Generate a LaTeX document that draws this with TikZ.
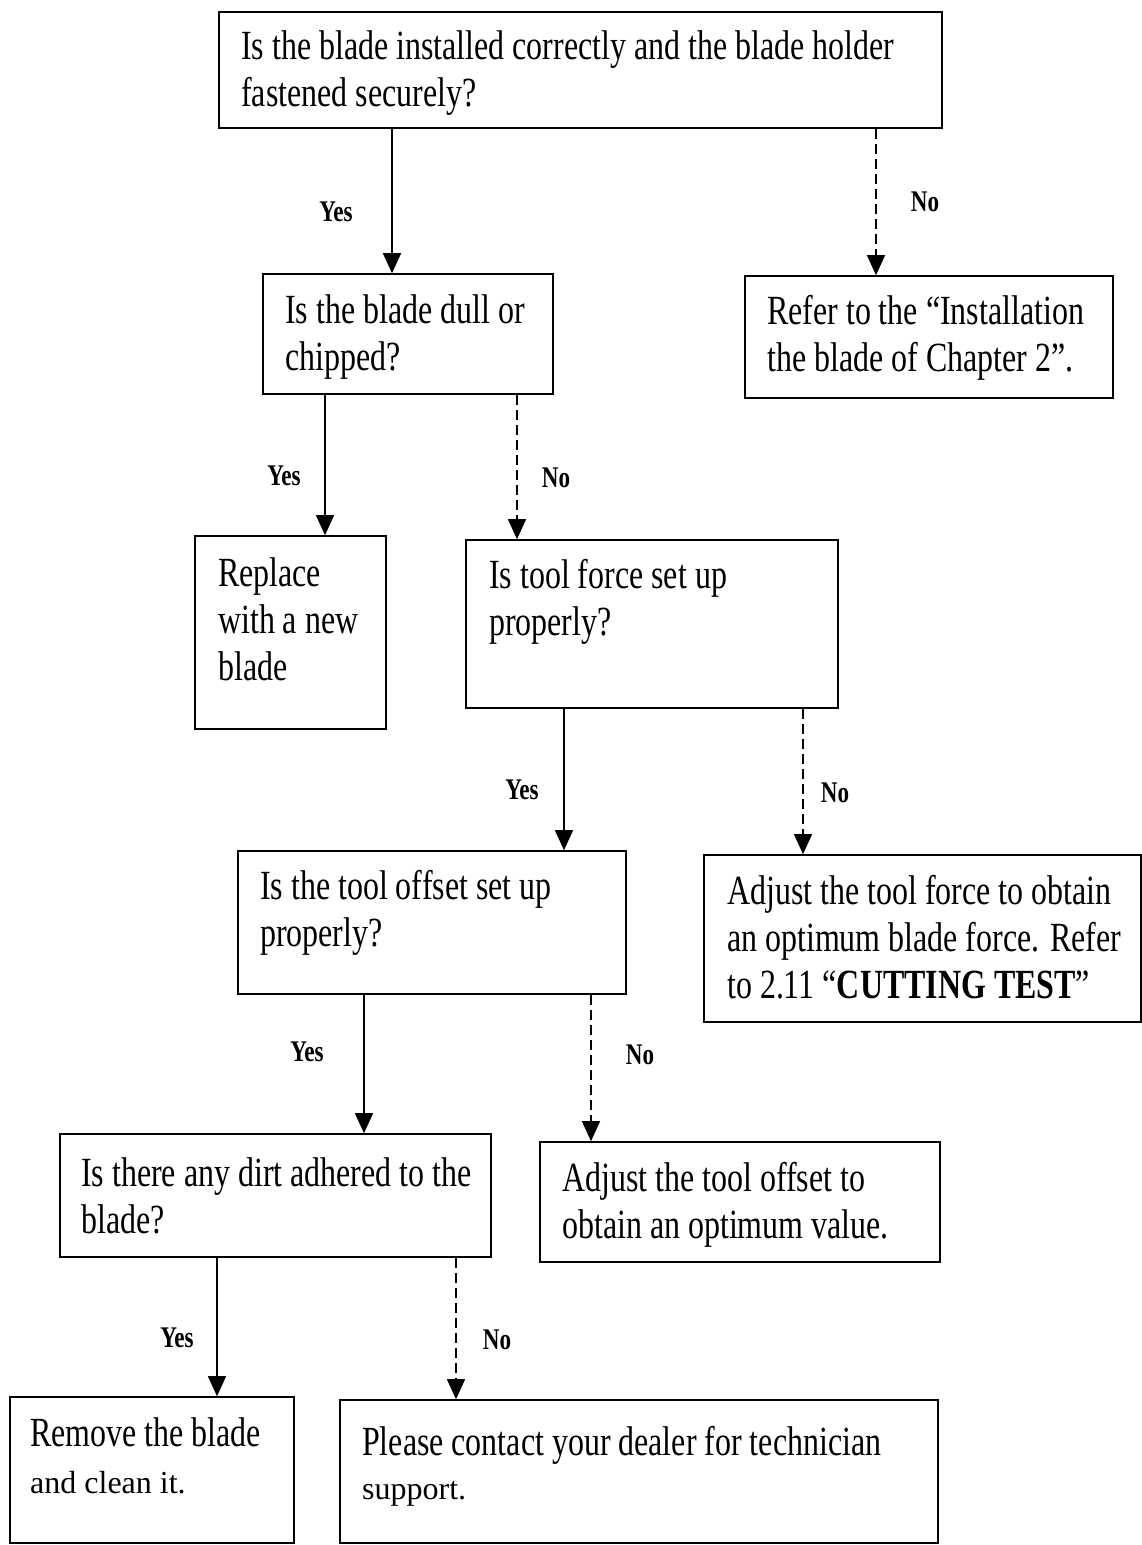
\documentclass[tikz,border=0pt]{standalone}
\usepackage{fontspec}
\setmainfont{Liberation Serif}[FakeStretch=0.77]
\newfontfamily\plainserif{Liberation Serif}
\usetikzlibrary{arrows.meta,fit}
\newcommand\firstln{\rule{0pt}{32pt}}
\begin{document}
\begin{tikzpicture}[x=1pt,y=-1pt,
  box/.style={draw, line width=1.6pt, inner sep=0pt},
  txt/.style={anchor=north west, inner sep=0pt, align=left, font=\fontsize{41.5}{47}\selectfont},
  small/.style={font=\plainserif\fontsize{32}{40}\selectfont},
  lbl/.style={inner sep=0pt, font=\fontsize{30}{34}\selectfont\bfseries},
  yesarrow/.style={line width=1.5pt, -{Triangle[length=20pt,width=18pt]}},
  noarrow/.style={line width=1.3pt, dash pattern=on 10pt off 5pt, -{Triangle[length=20pt,width=18pt]}}]
\useasboundingbox (0,0) rectangle (1142,1545);
% boxes
\node[box, fit={(219,12)(942,128)}] (b1) {};
\node[box, fit={(263,274)(553,394)}] (b2) {};
\node[box, fit={(745,276)(1113,398)}] (b3) {};
\node[box, fit={(195,536)(386,729)}] (b4) {};
\node[box, fit={(466,540)(838,708)}] (b5) {};
\node[box, fit={(238,851)(626,994)}] (b6) {};
\node[box, fit={(704,855)(1141,1022)}] (b7) {};
\node[box, fit={(60,1134)(491,1257)}] (b8) {};
\node[box, fit={(540,1142)(940,1262)}] (b9) {};
\node[box, fit={(10,1397)(294,1543)}] (b10) {};
\node[box, fit={(340,1400)(938,1543)}] (b11) {};
% texts
\node[txt] (t1) at (241,27) {\firstln Is the blade installed correctly and the blade holder\\fastened securely?};
\node[txt] (t2) at (285,291) {\firstln Is the blade dull or\\chipped?};
\node[txt] (t3) at (767,292) {\firstln Refer to the “Installation\\the blade of Chapter 2”.};
\node[txt] (t4) at (218,554) {\firstln Replace\\with a new\\blade};
\node[txt] (t5) at (489,556) {\firstln Is tool force set up\\properly?};
\node[txt] (t6) at (260,867) {\firstln Is the tool offset set up\\properly?};
\node[txt] (t7) at (727,872) {\firstln Adjust the tool force to obtain\\an optimum blade force. Refer\\to 2.11 “\textbf{CUTTING TEST}”};
\node[txt] (t8) at (81,1154) {\firstln Is there any dirt adhered to the\\blade?};
\node[txt] (t9) at (562,1159) {\firstln Adjust the tool offset to\\obtain an optimum value.};
\node[txt, font=\fontsize{41.5}{47}\selectfont] (t10) at (30,1414) {\firstln Remove the blade\\{\plainserif\fontsize{32}{47}\selectfont and clean it.}};
\node[txt, font=\fontsize{41.5}{44}\selectfont] (t11) at (362,1423) {\firstln Please contact your dealer for technician\\{\plainserif\fontsize{32}{44}\selectfont support.}};
% arrow columns
\coordinate (c1) at (392,0);
\coordinate (c2) at (876,0);
\coordinate (c3) at (325,0);
\coordinate (c4) at (517,0);
\coordinate (c5) at (564,0);
\coordinate (c6) at (803,0);
\coordinate (c7) at (364,0);
\coordinate (c8) at (591,0);
\coordinate (c9) at (217,0);
\coordinate (c10) at (456,0);
\draw[yesarrow] (c1 |- b1.south) -- (c1 |- b2.north);
\draw[noarrow] (c2 |- b1.south) -- (c2 |- b3.north);
\draw[yesarrow] (c3 |- b2.south) -- (c3 |- b4.north);
\draw[noarrow] (c4 |- b2.south) -- (c4 |- b5.north);
\draw[yesarrow] (c5 |- b5.south) -- (c5 |- b6.north);
\draw[noarrow] (c6 |- b5.south) -- (c6 |- b7.north);
\draw[yesarrow] (c7 |- b6.south) -- (c7 |- b8.north);
\draw[noarrow] (c8 |- b6.south) -- (c8 |- b9.north);
\draw[yesarrow] (c9 |- b8.south) -- (c9 |- b10.north);
\draw[noarrow] (c10 |- b8.south) -- (c10 |- b11.north);
% labels
\node[lbl] (y1) at (336,212) {Yes};
\node[lbl] (n1) at (925,202) {No};
\node[lbl] (y2) at (284,476) {Yes};
\node[lbl] (n2) at (556,478) {No};
\node[lbl] (y3) at (522,790) {Yes};
\node[lbl] (n3) at (835,793) {No};
\node[lbl] (y4) at (307,1052) {Yes};
\node[lbl] (n4) at (640,1055) {No};
\node[lbl] (y5) at (177,1338) {Yes};
\node[lbl] (n5) at (497,1340) {No};
\end{tikzpicture}
\end{document}
